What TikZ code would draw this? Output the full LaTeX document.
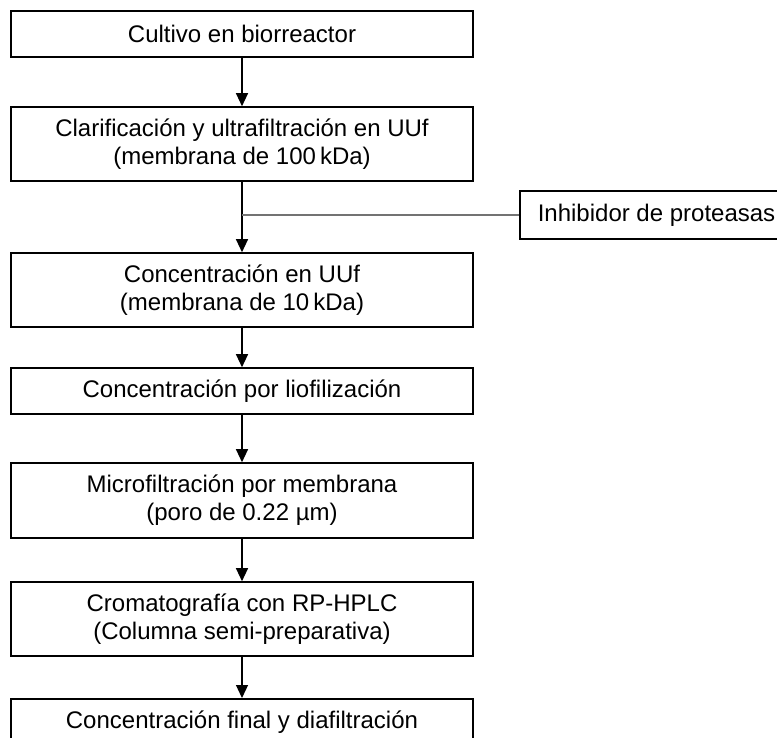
\documentclass[tikz,border=0pt]{standalone}
\usepackage{fontspec}
\setmainfont{Liberation Sans}
\usetikzlibrary{arrows.meta}

\begin{document}
\begin{tikzpicture}[x=1pt,y=-1pt,
  caja/.style={draw=black,line width=1.6pt,minimum width=462pt,align=center,inner sep=0pt,
    font=\fontsize{24}{28}\selectfont},
  flecha/.style={draw=black,line width=1.2pt,-{Triangle[length=13pt,width=12pt]}},
  gris/.style={draw=black!55,line width=1.3pt}]
\useasboundingbox (0,0) rectangle (777,737);
\clip (0,0) rectangle (777,737);
\node[caja,minimum height=46pt] (cultivo) at (242,34) {Cultivo en biorreactor};
\node[caja,minimum height=74pt] (clarif) at (242,144) {Clarificación y ultrafiltración en UUf\\(membrana de 100\,kDa)};
\node[caja,minimum height=74pt] (concuuf) at (242,290) {Concentración en UUf\\(membrana de 10\,kDa)};
\node[caja,minimum height=46pt] (liofil) at (242,391) {Concentración por liofilización};
\node[caja,minimum height=75pt] (microf) at (242,500.5) {Microfiltración por membrana\\(poro de 0.22 µm)};
\node[caja,minimum height=74pt] (cromat) at (242,619) {Cromatografía con RP-HPLC\\(Columna semi-preparativa)};
\node[caja,minimum height=46pt,anchor=north] (final) at (242,698) {Concentración final y diafiltración};
\node[caja,minimum width=0pt,minimum height=48pt,inner xsep=18pt,anchor=west] (inhib) at (519,215) {Inhibidor de proteasas};
\coordinate (union) at (242,215);
% flechas
\draw[flecha] (cultivo) -- (clarif);
\draw[flecha] (clarif) -- (concuuf);
\draw[gris] (inhib.west) -- (union);
\draw[flecha] (concuuf) -- (liofil);
\draw[flecha] (liofil) -- (microf);
\draw[flecha] (microf) -- (cromat);
\draw[flecha] (cromat) -- (final);
\end{tikzpicture}
\end{document}
